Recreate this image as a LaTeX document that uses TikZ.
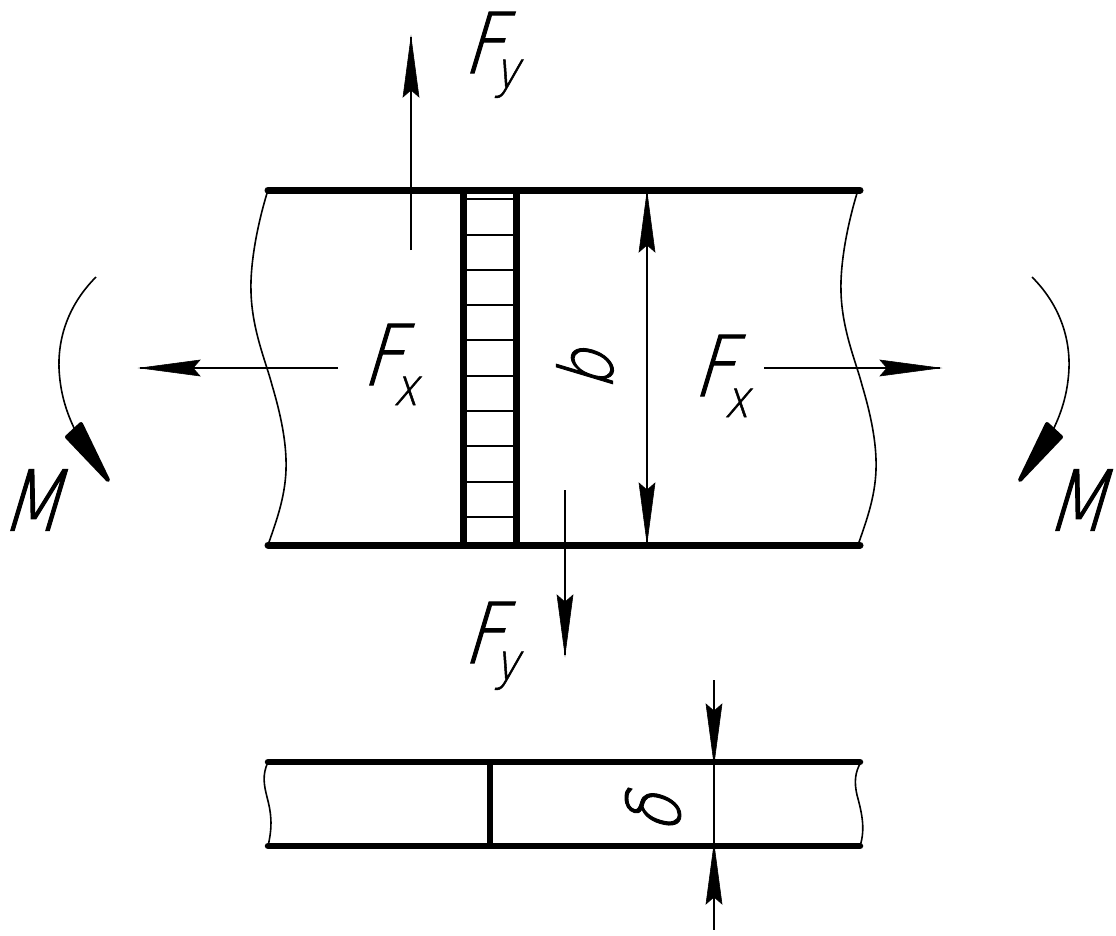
\documentclass[tikz,border=0pt]{standalone}
\usepackage{fontspec}
\newfontfamily\cadfont[FakeSlant=0.3,FakeStretch=0.85,FakeBold=1.2]{DejaVu Sans ExtraLight}
\newfontfamily\cadsub[FakeSlant=0.25,FakeStretch=0.8,FakeBold=1]{DejaVu Sans ExtraLight}
\newcommand{\bigletter}[1]{{\fontsize{84}{84}\cadfont #1}}
\newcommand{\midletter}[1]{{\fontsize{74}{74}\cadfont #1}}
\newcommand{\subletter}[1]{{\fontsize{52}{52}\cadsub #1}}
\newcommand{\withsub}[3]{\bigletter{#2}\kern-9pt\raisebox{#1}{\subletter{#3}}}
\tikzset{
  thinline/.style={line width=2pt,line cap=butt},
  waveline/.style={line width=1.6pt},
  plateline/.style={line width=7pt,line cap=round},
  lowplate/.style={line width=6.5pt,line cap=round},
  weldline/.style={line width=7pt,line cap=butt},
  hatchline/.style={line width=1.7pt},
  headfill/.style={fill=black,draw=black,line width=0.6pt,line join=miter},
  momenthead/.style={fill=black,draw=black,line width=4pt,line join=round},
  label/.style={inner sep=0pt,outer sep=0pt,anchor=center},
  baselabel/.style={inner sep=0pt,outer sep=0pt,anchor=base west}
}
\newcommand{\headv}[2]{% tip, +/-1 direction along y
  \fill[headfill] (#1) -- ++(-8,#2*60) -- ++(8,#2*-7) -- ++(8,#2*7) -- cycle;}
\newcommand{\headh}[2]{%
  \fill[headfill] (#1) -- ++(#2*60,-8) -- ++(#2*-7,8) -- ++(#2*7,8) -- cycle;}
\begin{document}
\begin{tikzpicture}[x=1pt,y=-1pt]
\useasboundingbox (0,0) rectangle (1116,935);
% named points
\coordinate (tl) at (268,190); \coordinate (tr) at (860,190);
\coordinate (bl) at (268,545); \coordinate (br) at (860,545);
\coordinate (ltl) at (268,762); \coordinate (ltr) at (860,762);
\coordinate (lbl) at (268,846); \coordinate (lbr) at (860,846);
% wavy ends
\draw[waveline] (tl) .. controls (258,222) and (250,262) .. (251,292)
  .. controls (252,330) and (266,362) .. (272,385)
  .. controls (280,412) and (287,442) .. (286,470)
  .. controls (285,498) and (276,522) .. (bl);
\draw[waveline] (858,190) .. controls (848,222) and (840,262) .. (841,292)
  .. controls (842,330) and (856,362) .. (862,385)
  .. controls (870,412) and (877,442) .. (876,470)
  .. controls (875,498) and (866,522) .. (858,545);
\draw[waveline] (ltl) .. controls (262,775) and (264,785) .. (267,797)
  .. controls (271,812) and (273,825) .. (lbl);
\draw[waveline] (861,762) .. controls (855,772) and (854,782) .. (857,795)
  .. controls (861,810) and (866,828) .. (860,846);
% hatching
\foreach \yy in {199,235,270,305,340,376,411,446,482,517}
  \draw[hatchline] (463,\yy) -- (516,\yy);
% welds
\draw[weldline] (463,190) -- (463,545);
\draw[weldline] (516,190) -- (516,545);
\draw[weldline,line width=5.5pt] (490,762) -- (490,846);
% plates
\draw[plateline] (tl) -- (tr);
\draw[plateline] (bl) -- (br);
\draw[lowplate] (ltl) -- (ltr);
\draw[lowplate] (lbl) -- (lbr);
% force arrows
\coordinate (fyA) at (411,37); \coordinate (fyAs) at (411,250);
\draw[thinline] (fyAs) -- (fyA); \headv{fyA}{1}
\coordinate (fyB) at (565,655); \coordinate (fyBs) at (565,490);
\draw[thinline] (fyBs) -- (fyB); \headv{fyB}{-1}
\coordinate (fxA) at (140,368); \coordinate (fxAs) at (338,368);
\draw[thinline] (fxAs) -- (fxA); \headh{fxA}{1}
\coordinate (fxB) at (940,368); \coordinate (fxBs) at (764,368);
\draw[thinline] (fxBs) -- (fxB); \headh{fxB}{-1}
% dimension b
\coordinate (dbT) at (647,192); \coordinate (dbB) at (647,543);
\draw[thinline] (dbT) -- (dbB); \headv{dbT}{1} \headv{dbB}{-1}
% dimension delta
\coordinate (ddT) at (714,764); \coordinate (ddB) at (714,844);
\draw[thinline] (714,680) -- (714,930);
\headv{ddT}{-1} \headv{ddB}{1}
% moments
\draw[waveline] (96,277) .. controls (70,303) and (58,335) .. (59,368)
  .. controls (60,392) and (66,412) .. (76,432);
\fill[momenthead] (108,480) -- (67,437) -- (81,424) -- cycle;
\draw[waveline] (1032,277) .. controls (1058,303) and (1070,335) .. (1069,368)
  .. controls (1068,392) and (1062,412) .. (1052,432);
\fill[momenthead] (1020,480) -- (1061,437) -- (1047,424) -- cycle;
% labels
\node[baselabel] (lfya) at (462,73) {\withsub{-15pt}{F}{y}};
\node[baselabel] (lfyb) at (462,663) {\withsub{-17pt}{F}{y}};
\node[baselabel] (lfxa) at (361,385) {\withsub{-20pt}{F}{x}};
\node[baselabel] (lfxb) at (692,396) {\withsub{-21pt}{F}{x}};
\node[label] (lma) at (30,500) {\bigletter{M}};
\node[label] (lmb) at (1075,500) {\bigletter{M}};
\node[label,rotate=90] (lb) at (585,371) {\midletter{b}};
\node[label,rotate=90] (ld) at (653,815) {\midletter{δ}};
\end{tikzpicture}
\end{document}
